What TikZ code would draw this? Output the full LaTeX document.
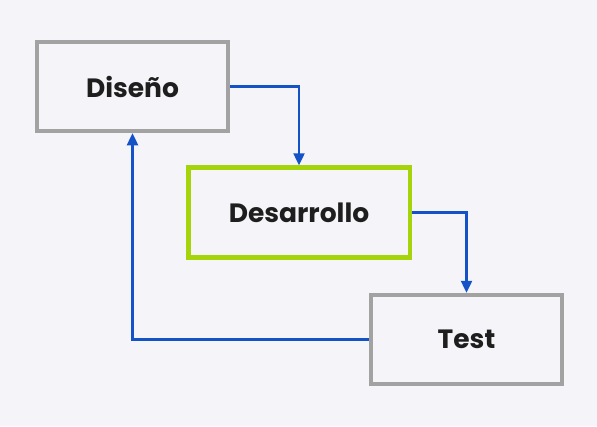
\documentclass[tikz,border=0pt]{standalone}
\usepackage{fontspec}
\setmainfont{Poppins}
\usetikzlibrary{arrows.meta}
\definecolor{bg}{HTML}{F5F4F8}
\definecolor{boxgray}{HTML}{A2A2A2}
\definecolor{boxgreen}{HTML}{A6D40A}
\definecolor{arrowblue}{HTML}{1452C8}
\definecolor{txt}{HTML}{1E1E1E}
\tikzset{
  box/.style={draw=boxgray, line width=4.5pt, fill=bg, rectangle,
    minimum width=191pt, minimum height=89pt, inner sep=0pt,
    font=\fontsize{26.5}{30}\selectfont\bfseries, text=txt},
  greenbox/.style={box, draw=boxgreen, minimum width=221.5pt, minimum height=90pt},
  flow/.style={draw=arrowblue, line width=2.4pt, -{Triangle[length=12pt,width=11pt]}}
}
\begin{document}
\begin{tikzpicture}[x=1pt,y=-1pt]
\fill[bg] (0,0) rectangle (597,426);
\useasboundingbox (0,0) rectangle (597,426);
\node[box] (dis) at (132.5,86.5) {Diseño};
\node[greenbox] (des) at (299,212.5) {Desarrollo};
\node[box] (test) at (466.5,339.5) {Test};
\draw[flow] (dis.east) -| (des.north);
\draw[flow] (des.east) -| (test.north);
\draw[flow] (test.west) -| (dis.south);
\end{tikzpicture}
\end{document}
